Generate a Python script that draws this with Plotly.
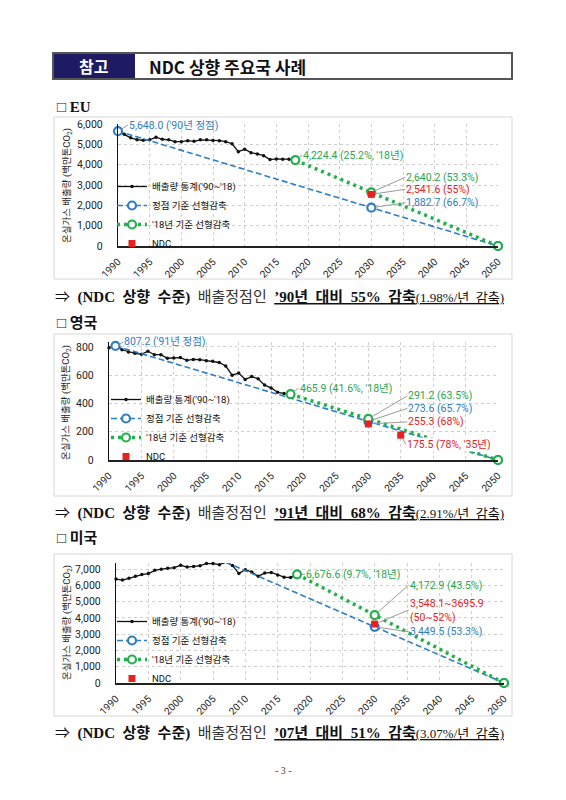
import plotly.graph_objects as go

# ---------------- data ----------------
years = list(range(1990, 2019))
eu_emis = [5648.0, 5500, 5320, 5230, 5200, 5220, 5350, 5250, 5220, 5130,
           5130, 5180, 5150, 5220, 5220, 5190, 5180, 5130, 5030, 4640,
           4760, 4590, 4530, 4440, 4250, 4280, 4270, 4270, 4224.4]
uk_emis = [795, 807.2, 780, 765, 755, 748, 770, 745, 745, 720,
           722, 725, 705, 712, 710, 702, 698, 690, 665, 600,
           615, 570, 590, 575, 530, 510, 480, 470, 465.9]
us_emis = [6380, 6320, 6430, 6560, 6660, 6720, 6920, 6990, 7040, 7080,
           7230, 7120, 7160, 7200, 7340, 7340, 7270, 7416.5, 7220, 6730,
           6960, 6810, 6560, 6750, 6790, 6640, 6500, 6480, 6676.6]

eu_peak_x, eu_peak_y = [1990, 2030, 2050], [5648.0, 1882.7, 0]
eu_base_x, eu_base_y = [2018, 2030, 2050], [4224.4, 2640.2, 0]
eu_ndc_x, eu_ndc_y = [2030], [2541.6]

uk_peak_x, uk_peak_y = [1991, 2030, 2050], [807.2, 273.6, 0]
uk_base_x, uk_base_y = [2018, 2030, 2050], [465.9, 291.2, 0]
uk_ndc_x, uk_ndc_y = [2030, 2035], [255.3, 175.5]

us_peak_x, us_peak_y = [2007, 2030, 2050], [7416.5, 3449.5, 0]
us_base_x, us_base_y = [2018, 2030, 2050], [6676.6, 4172.9, 0]
us_ndc_x = [2030]
us_ndc_lo, us_ndc_hi = [3548.1], [3695.9]
us_ndc_y = [(a + b) / 2 for a, b in zip(us_ndc_lo, us_ndc_hi)]

x_ticks = list(range(1990, 2051, 5))
legend_names = ["배출량 통계('90~'18)", "정점 기준 선형감축", "'18년 기준 선형감축", "NDC"]

# ---------------- style ----------------
OX, OY = 8, 8
W, H = 550, 784
def px(x): return (x - OX) / W
def py(y): return 1 - (y - OY) / H

BLUE = "#2f7ec4"
GREEN = "#22b04b"
GREEN_T = "#2aa650"
RED = "#e8201f"
NAVY = "#1f1b63"
CF = "Roboto, 'Noto Sans CJK KR'"
SF = "'Liberation Serif', 'Noto Sans CJK KR'"

fig = go.Figure()

def add_chart(i, emis, pkx, pky, bsx, bsy, ndx, ndy):
    xa = "x" if i == 1 else f"x{i}"
    ya = "y" if i == 1 else f"y{i}"
    lg = "legend" if i == 1 else f"legend{i}"
    fig.add_trace(go.Scatter(x=years, y=emis, mode="lines+markers", name=legend_names[0],
                             line=dict(color="#111", width=1.3), marker=dict(size=3.5, color="#111"),
                             xaxis=xa, yaxis=ya, legend=lg, cliponaxis=False))
    fig.add_trace(go.Scatter(x=pkx, y=pky, mode="lines+markers", name=legend_names[1],
                             line=dict(color=BLUE, width=1.6, dash="6px,3px"),
                             marker=dict(size=8, color="white", line=dict(color=BLUE, width=2.2)),
                             xaxis=xa, yaxis=ya, legend=lg, cliponaxis=False))
    fig.add_trace(go.Scatter(x=bsx, y=bsy, mode="lines+markers", name=legend_names[2],
                             line=dict(color=GREEN, width=3.5, dash="3px,4px"),
                             marker=dict(size=8, color="white", line=dict(color=GREEN, width=2.2)),
                             xaxis=xa, yaxis=ya, legend=lg, cliponaxis=False))
    fig.add_trace(go.Scatter(x=ndx, y=ndy, mode="markers", name=legend_names[3],
                             marker=dict(size=7, color=RED, symbol="square"),
                             xaxis=xa, yaxis=ya, legend=lg, cliponaxis=False))

add_chart(1, eu_emis, eu_peak_x, eu_peak_y, eu_base_x, eu_base_y, eu_ndc_x, eu_ndc_y)
add_chart(2, uk_emis, uk_peak_x, uk_peak_y, uk_base_x, uk_base_y, uk_ndc_x, uk_ndc_y)
add_chart(3, us_emis, us_peak_x, us_peak_y, us_base_x, us_base_y, us_ndc_x, us_ndc_y)

xcommon = dict(range=[1990, 2050], tickvals=x_ticks, tickangle=-45, automargin=False,
               tickfont=dict(family=CF, size=10, color="#222"),
               showgrid=True, gridcolor="#cfcfcf", griddash="dot", gridwidth=1,
               showline=True, linecolor="#222", linewidth=2, zeroline=False,
               ticklabelstandoff=4)
ycommon = dict(tickfont=dict(family=CF, size=10.5, color="#222"), automargin=False,
               showgrid=True, gridcolor="#cfcfcf", griddash="dot", gridwidth=1,
               showline=True, linecolor="#111", linewidth=1.3, zeroline=False,
               tickformat=",", ticklabelstandoff=12)

layout_axes = dict(
    xaxis=dict(domain=[px(118), px(498)], anchor="y", **xcommon),
    yaxis=dict(domain=[py(246), py(124)], anchor="x", range=[0, 6000], dtick=1000, **ycommon),
    xaxis2=dict(domain=[px(109), px(498)], anchor="y2", **xcommon),
    yaxis2=dict(domain=[py(460), py(342)], anchor="x2", range=[0, 835], tickvals=[0, 200, 400, 600, 800], **ycommon),
    xaxis3=dict(domain=[px(116), px(504)], anchor="y3", **xcommon),
    yaxis3=dict(domain=[py(683), py(563)], anchor="x3", range=[0, 7370], tickvals=list(range(0, 7001, 1000)), **ycommon),
)

leg = dict(bgcolor="rgba(0,0,0,0)", font=dict(family=CF, size=9.5, color="#111"),
           xanchor="left", yanchor="top", tracegroupgap=0, itemwidth=30)
legends = dict(
    legend=dict(x=px(112), y=py(172), **leg),
    legend2=dict(x=px(106), y=py(385), **leg),
    legend3=dict(x=px(112), y=py(607), **leg),
)

shapes = []
annotations = []

# header
shapes.append(dict(type="rect", xref="paper", yref="paper", x0=px(53), x1=px(135), y0=py(79), y1=py(53),
                   fillcolor=NAVY, line=dict(width=0)))
shapes.append(dict(type="rect", xref="paper", yref="paper", x0=px(53), x1=px(512), y0=py(79), y1=py(53),
                   fillcolor="rgba(0,0,0,0)", line=dict(color="#555", width=2)))
annotations.append(dict(text="<b>참고</b>", x=px(94), y=py(66), xref="paper", yref="paper", showarrow=False,
                        font=dict(family="'Noto Sans CJK KR'", size=16, color="white"), xanchor="center", yanchor="middle"))
annotations.append(dict(text="<b>NDC 상향 주요국 사례</b>", x=px(147), y=py(66), xref="paper", yref="paper", showarrow=False,
                        font=dict(family="'Noto Sans CJK KR'", size=17, color="#111"), xanchor="left", yanchor="middle"))

# chart frames
for (t, b) in [(117, 279), (334, 496), (554, 716)]:
    shapes.append(dict(type="rect", xref="paper", yref="paper", x0=px(54), x1=px(512), y0=py(b), y1=py(t),
                       fillcolor="rgba(0,0,0,0)", line=dict(color="#d6d6d6", width=1), layer="below"))

def ptext(txt, x, y, size=14, color="#111", anchor="left"):
    annotations.append(dict(text=txt, x=px(x), y=py(y), xref="paper", yref="paper", showarrow=False,
                            font=dict(family=SF, size=size, color=color), xanchor=anchor, yanchor="middle"))

ptext("□ <b>EU</b>", 55, 107, 15)
ptext("□ <b>영국</b>", 55, 323, 15)
ptext("□ <b>미국</b>", 55, 538, 15)

SP = "\u2002"
def concl(base, pct, rate):
    return (f"⇒{SP}<b>(NDC{SP}상향{SP}수준)</b>{SP}<span style='color:#333'>배출정점인</span>{SP}"
            f"<b><u>{base}{SP}대비{SP}{pct}{SP}감축</u></b><u><span style='font-size:13px'>({rate}/년{SP}감축)</span></u>")

ptext(concl("’90년", "55%", "1.98%"), 53, 297, 15)
ptext(concl("’91년", "68%", "2.91%"), 53, 513, 15)
ptext(concl("’07년", "51%", "3.07%"), 53, 733, 15)
ptext("- 3 -", 283, 770, 10, "#444", "center")

for (xc, yc) in [(67, 186), (66, 403), (67, 623)]:
    annotations.append(dict(text="온실가스 배출량 (백만톤CO<sub>2</sub>)", x=px(xc), y=py(yc), xref="paper", yref="paper",
                            showarrow=False, textangle=-90, font=dict(family=CF, size=9.5, color="#222"),
                            xanchor="center", yanchor="middle"))

def lab(i, x, y, txt, color, ax, ay, bg=None):
    xr = "x" if i == 1 else f"x{i}"
    yr = "y" if i == 1 else f"y{i}"
    d = dict(text=txt, x=x, y=y, xref=xr, yref=yr, showarrow=True, arrowhead=0, arrowwidth=1,
             arrowcolor="#9a9a9a", ax=ax, ay=ay, standoff=4, xanchor="left", yanchor="middle", align="left",
             font=dict(family=CF, size=10.5, color=color), borderpad=0)
    if bg:
        d["bgcolor"] = bg
    annotations.append(d)

lab(1, eu_peak_x[0], eu_peak_y[0], f"{eu_peak_y[0]:,.1f} ('90년 정점)", BLUE, 10, -6)
lab(1, eu_base_x[0], eu_base_y[0], f"{eu_base_y[0]:,.1f} (25.2%, '18년)", GREEN_T, 7, -5)
lab(1, eu_base_x[1], eu_base_y[1], f"{eu_base_y[1]:,.1f} (53.3%)", GREEN_T, 34, -15)
lab(1, eu_ndc_x[0], eu_ndc_y[0], f"{eu_ndc_y[0]:,.1f} (55%)", RED, 34, -5)
lab(1, eu_peak_x[1], eu_peak_y[1], f"{eu_peak_y[1]:,.1f} (66.7%)", BLUE, 34, -5)

lab(2, uk_peak_x[0], uk_peak_y[0], f"{uk_peak_y[0]:,.1f} ('91년 정점)", BLUE, 8, -4)
lab(2, uk_base_x[0], uk_base_y[0], f"{uk_base_y[0]:,.1f} (41.6%, '18년)", GREEN_T, 8, -6)
lab(2, uk_base_x[1], uk_base_y[1], f"{uk_base_y[1]:,.1f} (63.5%)", GREEN_T, 39, -23)
lab(2, uk_peak_x[1], uk_peak_y[1], f"{uk_peak_y[1]:,.1f} (65.7%)", BLUE, 39, -13)
lab(2, uk_ndc_x[0], uk_ndc_y[0], f"{uk_ndc_y[0]:,.1f} (68%)", RED, 39, -2)
lab(2, uk_ndc_x[1], uk_ndc_y[1], f"{uk_ndc_y[1]:,.1f} (78%, '35년)", RED, 5, 9, bg="white")

lab(3, us_peak_x[0], us_peak_y[0], f"{us_peak_y[0]:,.1f} ('07년 정점)", BLUE, 9, 0)
lab(3, us_base_x[0], us_base_y[0], f"{us_base_y[0]:,.1f} (9.7%, '18년)", GREEN_T, 8, 0)
lab(3, us_base_x[1], us_base_y[1], f"{us_base_y[1]:,.1f} (43.5%)", GREEN_T, 34, -30)
lab(3, us_ndc_x[0], us_ndc_y[0], f"{us_ndc_lo[0]:,.1f}~{us_ndc_hi[0]:.1f}<br>(50~52%)", RED, 34, -14)
lab(3, us_peak_x[1], us_peak_y[1], f"{us_peak_y[1]:,.1f} (53.3%)", BLUE, 34, 5)

fig.update_layout(width=W, height=H, margin=dict(l=0, r=0, t=0, b=0, pad=0),
                  paper_bgcolor="white", plot_bgcolor="white", showlegend=True,
                  shapes=shapes, annotations=annotations, **layout_axes, **legends)

fig.write_html("out.html")
